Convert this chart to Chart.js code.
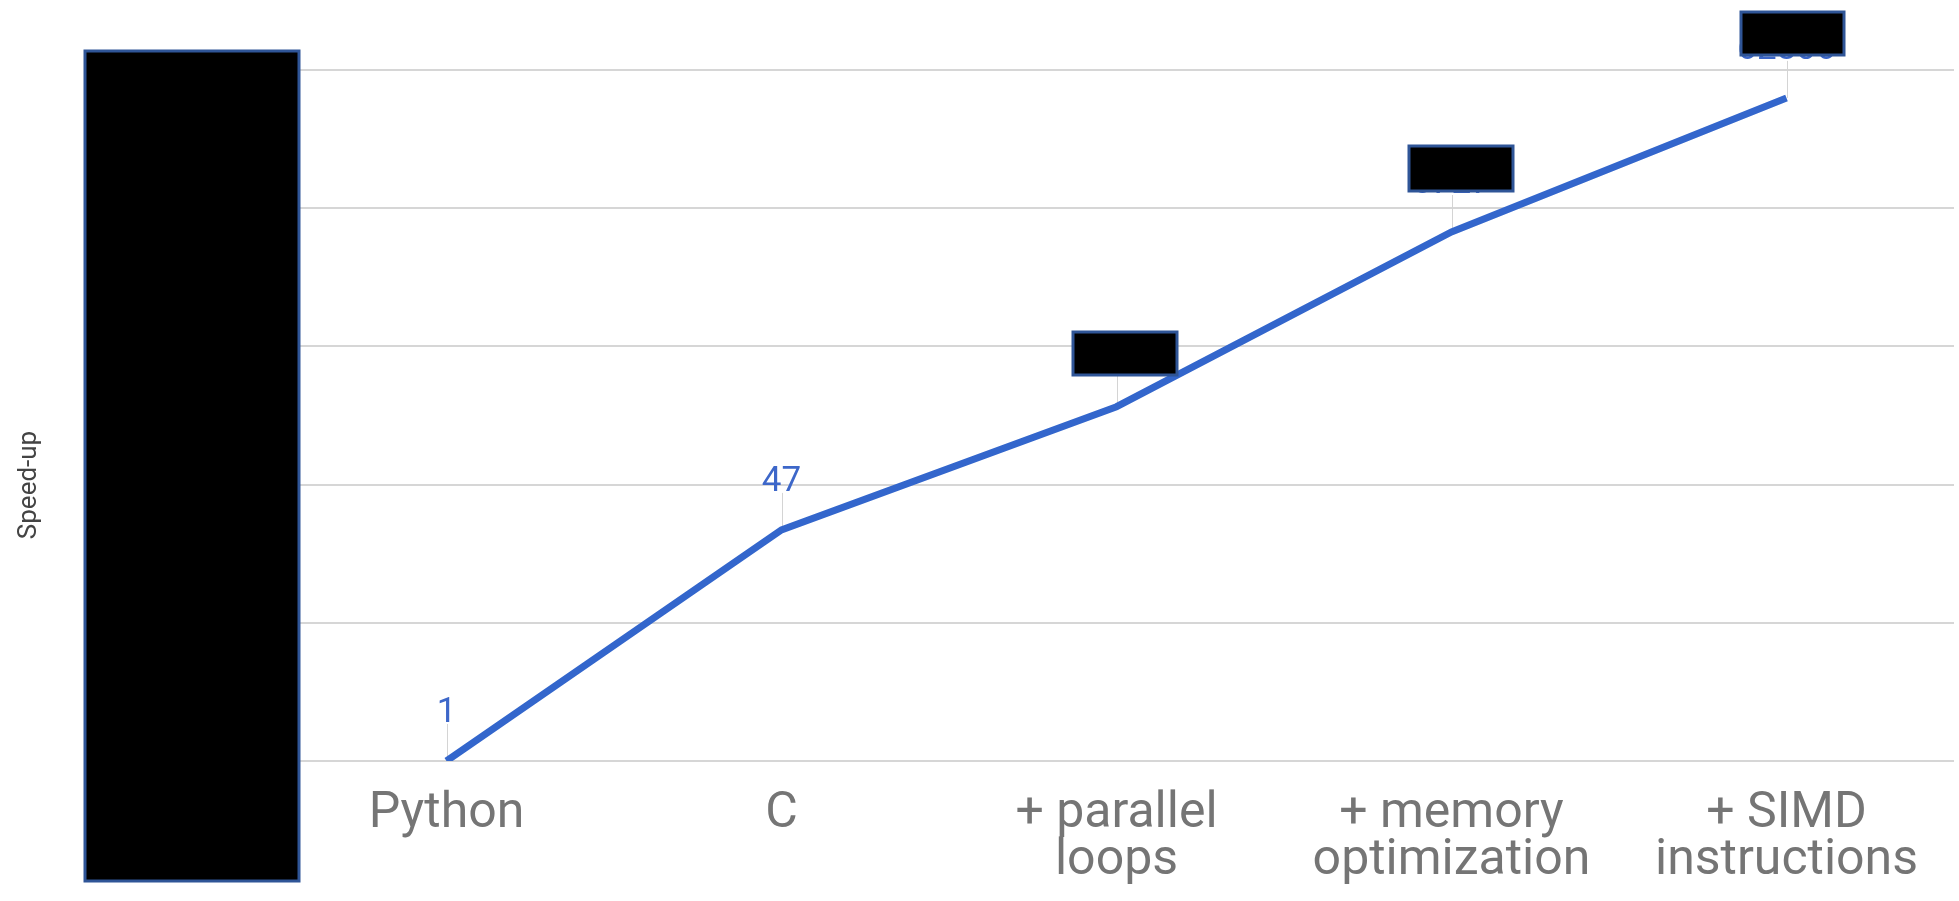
<!DOCTYPE html>
<html>
<head>
<meta charset="utf-8">
<script src="https://cdn.jsdelivr.net/npm/chart.js@4.4.0/dist/chart.umd.min.js"></script>
<style>
  html, body { margin: 0; padding: 0; background: #fff; }
  #wrap { width: 1959px; height: 901px; }
</style>
</head>
<body>
<div id="wrap"><canvas id="speedChart" width="1959" height="901"></canvas></div>
<script>
const categories = [
  'Python',
  'C',
  ['+ parallel', 'loops'],
  ['+ memory', 'optimization'],
  ['+ SIMD', 'instructions']
]
const speedup = [1, 47, 366, 6727, 62806]
const yTicks = [1, 10, 100, 1000, 10000, 100000]
const yTitle = 'Speed-up'

// black boxes pasted over the source picture: x, y, w, h
const blackBoxes = [
  [85, 51, 214, 830],
  [1073, 332, 104, 43],
  [1409, 146, 104, 45],
  [1741, 12, 103, 43]
]

const annotations = {
  id: 'annotations',
  beforeDatasetsDraw (chart) {
    const ctx = chart.ctx
    const meta = chart.getDatasetMeta(0)
    ctx.save()
    ctx.strokeStyle = '#d4d4d4'
    ctx.lineWidth = 1
    meta.data.forEach(function (pt) {
      const x = Math.round(pt.x) + 0.5
      ctx.beginPath()
      ctx.moveTo(x, pt.y - 37)
      ctx.lineTo(x, pt.y)
      ctx.stroke()
    })
    ctx.restore()
  },
  afterDatasetsDraw (chart) {
    const ctx = chart.ctx
    const meta = chart.getDatasetMeta(0)
    ctx.save()
    ctx.font = '35px Roboto'
    ctx.fillStyle = '#3d67c9'
    ctx.textAlign = 'center'
    ctx.textBaseline = 'alphabetic'
    meta.data.forEach(function (pt, i) {
      ctx.fillText(String(speedup[i]), pt.x, pt.y - 39)
    })
    ctx.restore()
  },
  afterDraw (chart) {
    const ctx = chart.ctx
    ctx.save()
    // axis title
    ctx.translate(29, 485)
    ctx.rotate(-Math.PI / 2)
    ctx.font = '26px Roboto'
    ctx.fillStyle = '#444444'
    ctx.textAlign = 'center'
    ctx.textBaseline = 'middle'
    ctx.fillText(yTitle, 0, 0)
    ctx.restore()

    ctx.save()
    ctx.fillStyle = '#000000'
    ctx.strokeStyle = '#2f5597'
    ctx.lineWidth = 3
    blackBoxes.forEach(function (b) {
      ctx.fillRect(b[0], b[1], b[2], b[3])
      ctx.strokeRect(b[0], b[1], b[2], b[3])
    })
    ctx.restore()
  }
}

const ctx = document.getElementById('speedChart').getContext('2d')
const speedChart = new Chart(ctx, {
  type: 'line',
  data: {
    labels: categories,
    datasets: [{
      data: speedup,
      borderColor: '#3366cc',
      borderWidth: 7,
      pointRadius: 0,
      tension: 0,
      fill: false
    }]
  },
  options: {
    responsive: false,
    animation: false,
    devicePixelRatio: 1,
    layout: {
      padding: { top: 70, right: 5, left: 0, bottom: 0 }
    },
    plugins: {
      legend: { display: false },
      tooltip: { enabled: false }
    },
    scales: {
      x: {
        offset: true,
        grid: { display: false, drawTicks: false },
        border: { display: false },
        ticks: {
          color: '#757575',
          font: { family: 'Roboto', size: 50, lineHeight: 0.94 },
          padding: 30,
          maxRotation: 0,
          autoSkip: false
        },
        afterFit (scale) { scale.height = 140 }
      },
      y: {
        type: 'logarithmic',
        min: 1,
        max: 100000,
        border: { display: false },
        grid: { color: '#d6d6d6', lineWidth: 2, drawTicks: false },
        ticks: {
          color: '#757575',
          font: { family: 'Roboto', size: 40 },
          padding: 20,
          autoSkip: false,
          callback: function (v) { return String(v) }
        },
        afterBuildTicks (scale) {
          scale.ticks = yTicks.map(function (v) { return { value: v } })
        },
        afterFit (scale) { scale.width = 279 }
      }
    }
  },
  plugins: [annotations]
})
</script>
</body>
</html>
